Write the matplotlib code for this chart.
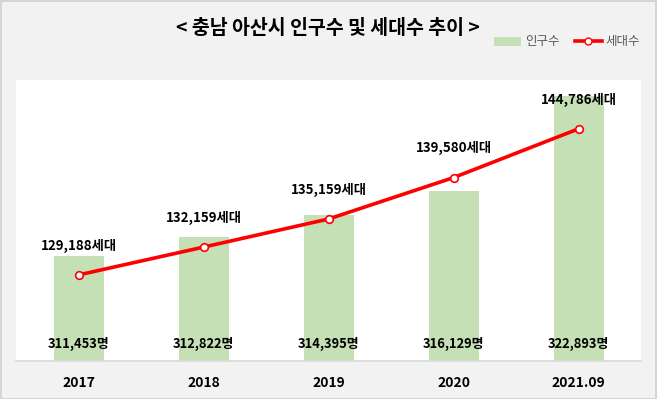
import matplotlib.pyplot as plt
from matplotlib.lines import Line2D
from matplotlib.patches import Patch

plt.rcParams['font.family'] = ['Noto Sans CJK KR', 'DejaVu Sans']

years = ['2017', '2018', '2019', '2020', '2021.09']
population = [311453, 312822, 314395, 316129, 322893]
households = [129188, 132159, 135159, 139580, 144786]

W, H = 657, 399
fig = plt.figure(figsize=(W / 100, H / 100), dpi=100)
fig.patch.set_facecolor('#F2F2F2')

# outer border of the chart
fig.add_artist(plt.Rectangle((0.5 / W, 0.5 / H), 1 - 1.5 / W, 1 - 1.5 / H,
                             transform=fig.transFigure, fill=False,
                             edgecolor='#D0D0D0', linewidth=1.2))

ax = fig.add_axes([16 / W, (H - 361) / H, 625 / W, 281 / H])
ax.set_facecolor('white')
x = list(range(len(years)))

ax.bar(x, population, width=0.4, color='#C5E0B4', zorder=1)
ax.set_ylim(304000, 324000)
ax.set_xlim(-0.5, len(years) - 0.5)
ax.set_yticks([])
ax.set_xticks(x)
ax.set_xticklabels(years, fontsize=10, fontweight='bold')
ax.tick_params(axis='x', length=0, pad=11)
for s in ['top', 'left', 'right']:
    ax.spines[s].set_visible(False)
ax.spines['bottom'].set_color('#D9D9D9')
ax.spines['bottom'].set_linewidth(1.2)

for i, p in enumerate(population):
    ax.text(i, 305200, f'{p:,}명', ha='center', va='center',
            fontsize=9.3, fontweight='bold', color='black', zorder=5)

ax2 = ax.twinx()
ax2.set_ylim(120000, 150000)
ax2.plot(x, households, color='#FF0000', linewidth=2.6, marker='o',
         markersize=5.5, markerfacecolor='white', markeredgecolor='#FF0000',
         markeredgewidth=1.2, zorder=3)
ax2.set_yticks([])
for s in ['top', 'left', 'right', 'bottom']:
    ax2.spines[s].set_visible(False)

for i, h in enumerate(households):
    ax2.annotate(f'{h:,}세대', (i, h), xytext=(0, 21), textcoords='offset points',
                 ha='center', va='center', fontsize=9.6, fontweight='bold',
                 color='black', zorder=5)

fig.text(328 / W, 1 - 28 / H, '< 충남 아산시 인구수 및 세대수 추이 >',
         ha='center', va='center', fontsize=14, fontweight='bold')

handles = [Patch(facecolor='#C5E0B4', edgecolor='none'),
           Line2D([0], [0], color='#FF0000', linewidth=2.6, marker='o',
                  markersize=5, markerfacecolor='white', markeredgecolor='#FF0000')]
fig.legend(handles, ['인구수', '세대수'], loc='center', ncol=2,
           bbox_to_anchor=(567 / W, 1 - 42 / H), frameon=False,
           fontsize=9, labelcolor='#595959', handlelength=2.2,
           handletextpad=0.3, columnspacing=1.2)

fig.savefig('out.png', dpi=100, facecolor=fig.get_facecolor())
